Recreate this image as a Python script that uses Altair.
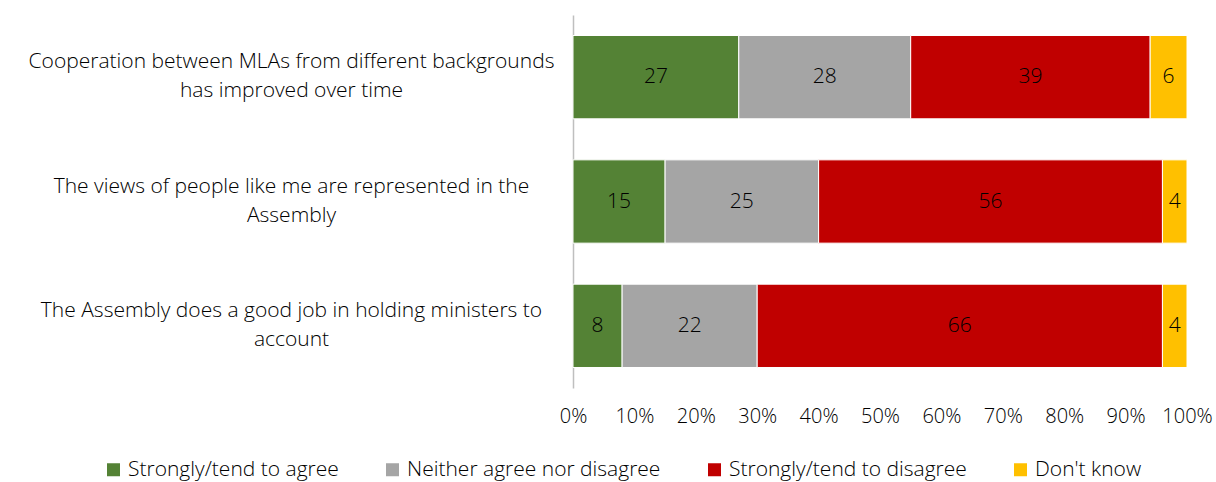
import altair as alt
import pandas as pd

categories = [
    "Cooperation between MLAs from different backgrounds|has improved over time",
    "The views of people like me are represented in the|Assembly",
    "The Assembly does a good job in holding ministers to|account",
]
responses = ["Strongly/tend to agree", "Neither agree nor disagree",
             "Strongly/tend to disagree", "Don't know"]
colors = ["#548235", "#A5A5A5", "#C00000", "#FFC000"]
agree = [27, 15, 8]
neither = [28, 25, 22]
disagree = [39, 56, 66]
dont_know = [6, 4, 4]
tick_values = [0, 10, 20, 30, 40, 50, 60, 70, 80, 90, 100]

rows = []
for i, c in enumerate(categories):
    for j, (r, vals) in enumerate(zip(responses, [agree, neither, disagree, dont_know])):
        rows.append({"category": c, "response": r, "value": vals[i], "order": j})
df = pd.DataFrame(rows)

FONT = "Open Sans"
FS = 21

base = alt.Chart(df).transform_stack(
    stack="value", as_=["x0", "x1"], groupby=["category"],
    sort=[alt.SortField("order", order="ascending")]
).transform_calculate(mid="(datum.x0 + datum.x1) / 2")

y_enc = alt.Y(
    "category:N", sort=categories, title=None,
    scale=alt.Scale(paddingInner=0.33, paddingOuter=0.165),
    axis=alt.Axis(
        labelExpr="split(datum.label, '|')", labelAlign="center",
        labelPadding=282, labelLimit=700, labelFontSize=FS, labelFont=FONT,
        labelFontWeight=300, labelColor="#000000", labelLineHeight=29,
        labelOffset=-15,
        ticks=False, tickSize=0, domainColor="#BFBFBF", domainWidth=1.5,
        grid=False,
    ),
)

bars = base.mark_bar(stroke="white", strokeWidth=1).encode(
    x=alt.X("x0:Q", title=None, scale=alt.Scale(domain=[0, 100], nice=False),
            axis=alt.Axis(values=tick_values, labelExpr="datum.value + '%'",
                          grid=False, domain=False, ticks=False, labelPadding=18,
                          labelFontSize=20, labelFont=FONT, labelFontWeight=300,
                          labelColor="#000000", labelFlush=False)),
    x2="x1:Q",
    y=y_enc,
    color=alt.Color("response:N", sort=responses,
                    scale=alt.Scale(domain=responses, range=colors),
                    legend=alt.Legend(
                        title=None, orient="none", direction="horizontal",
                        legendX=-470, legendY=444, symbolType="square",
                        symbolSize=169, symbolStrokeWidth=0, labelFontSize=FS,
                        labelFont=FONT, labelFontWeight=300, labelColor="#000000",
                        columnPadding=43, labelOffset=4, labelLimit=400,
                    )),
)

labels = base.mark_text(fontSize=FS, font=FONT, fontWeight=300, color="#000000").encode(
    x="mid:Q", y=alt.Y("category:N", sort=categories), text="value:Q",
)

chart = alt.layer(bars, labels).properties(
    width=614, height=373,
    autosize=alt.AutoSizeParams(type="none"),
    padding={"left": 573, "top": 15, "right": 29, "bottom": 94},
).configure_view(stroke=None)

chart.save("out.html", embed_options={"renderer": "svg", "actions": False})
